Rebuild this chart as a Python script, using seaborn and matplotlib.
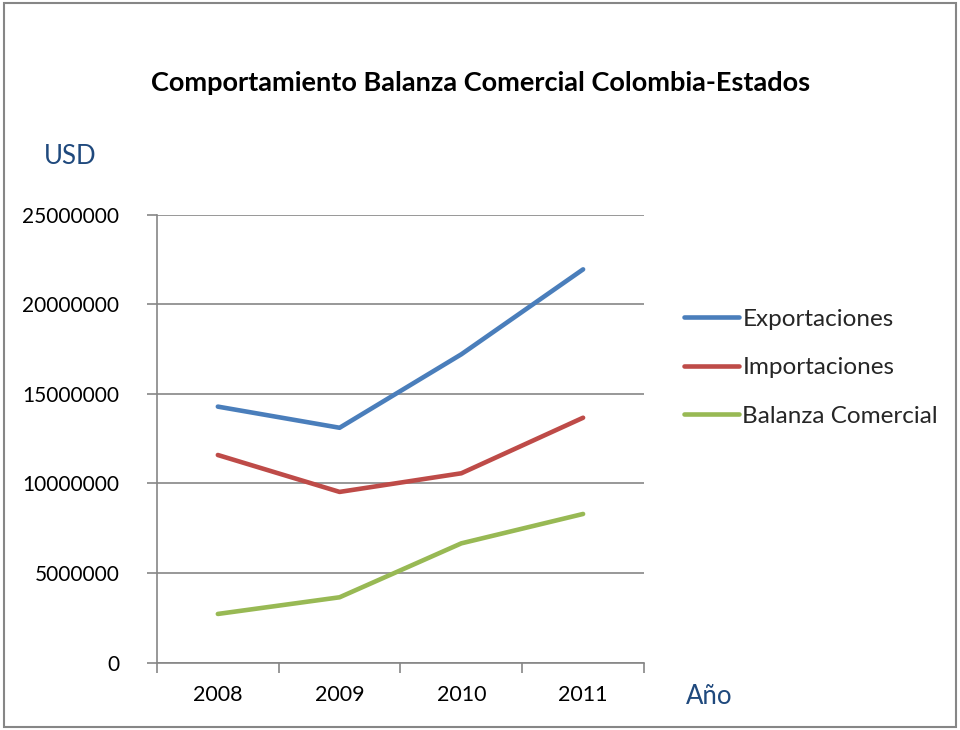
import matplotlib
matplotlib.use("Agg")
import matplotlib.pyplot as plt
import seaborn as sns
import pandas as pd
from matplotlib.patches import Rectangle
from matplotlib.lines import Line2D

years = ["2008", "2009", "2010", "2011"]
exportaciones = [14290000, 13110000, 17210000, 21950000]
importaciones = [11590000, 9530000, 10570000, 13670000]
balanza = [2720000, 3650000, 6660000, 8300000]
series_names = ["Exportaciones", "Importaciones", "Balanza Comercial"]
colors = ["#4A7EBB", "#BE4B48", "#98B954"]
y_ticks = [0, 5000000, 10000000, 15000000, 20000000, 25000000]

rows = []
for name, vals in zip(series_names, [exportaciones, importaciones, balanza]):
    for y, v in zip(years, vals):
        rows.append({"Año": y, "USD": v, "Serie": name})
df = pd.DataFrame(rows)

sns.set_theme(style="white")
plt.rcParams["font.family"] = ["Lato", "DejaVu Sans"]

fig = plt.figure(figsize=(9.6, 7.3), dpi=100)
ax = fig.add_axes([0.1635, 0.0922, 0.5073, 0.6137])

sns.lineplot(data=df, x="Año", y="USD", hue="Serie", palette=colors,
             linewidth=3.3, ax=ax, legend=False, sort=False)
for ln in ax.lines:
    ln.set_solid_capstyle("round")
    ln.set_solid_joinstyle("round")

ax.set_xlim(-0.5, 3.5)
ax.set_ylim(0, 25000000)
ax.set_yticks(y_ticks)
ax.set_yticklabels([str(t) for t in y_ticks])
ax.yaxis.grid(True, color="#868686", linewidth=1.2)
ax.set_axisbelow(True)
ax.set_xticks(range(len(years)))
ax.set_xticklabels(years)
ax.set_xticks([-0.5, 0.5, 1.5, 2.5, 3.5], minor=True)
ax.tick_params(axis="x", which="major", length=0, pad=16, labelsize=15.5, colors="black")
ax.tick_params(axis="x", which="minor", length=7, width=1.2, color="#868686", direction="out", bottom=True)
ax.tick_params(axis="y", length=7, width=1.2, color="#868686", direction="out", left=True, pad=20, labelsize=15, colors="black")
ax.set_xlabel("")
ax.set_ylabel("")
for s in ["top", "right"]:
    ax.spines[s].set_visible(False)
for s in ["left", "bottom"]:
    ax.spines[s].set_color("#868686")
    ax.spines[s].set_linewidth(1.2)

fig.text(0.501, 0.886, "Comportamiento Balanza Comercial Colombia-Estados",
         ha="center", va="center", fontsize=19.5, fontweight="bold", color="black")
fig.text(0.046, 0.785, "USD", ha="left", va="center", fontsize=18.5, color="#1F497D")
fig.text(0.714, 0.046, "Año", ha="left", va="center", fontsize=18.5, color="#1F497D")

handles = [Line2D([0], [0], color=c, linewidth=3.3) for c in colors]
fig.legend(handles, series_names, loc="upper left", bbox_to_anchor=(0.712, 0.577),
           frameon=False, fontsize=17.5, handlelength=2.3, handletextpad=0.12,
           labelspacing=1.13, borderaxespad=0, borderpad=0)

fig.patches.append(Rectangle((0.004, 0.004), 0.992, 0.992, transform=fig.transFigure,
                             fill=False, edgecolor="#868686", linewidth=1.5))

fig.savefig("out.png", dpi=100)
